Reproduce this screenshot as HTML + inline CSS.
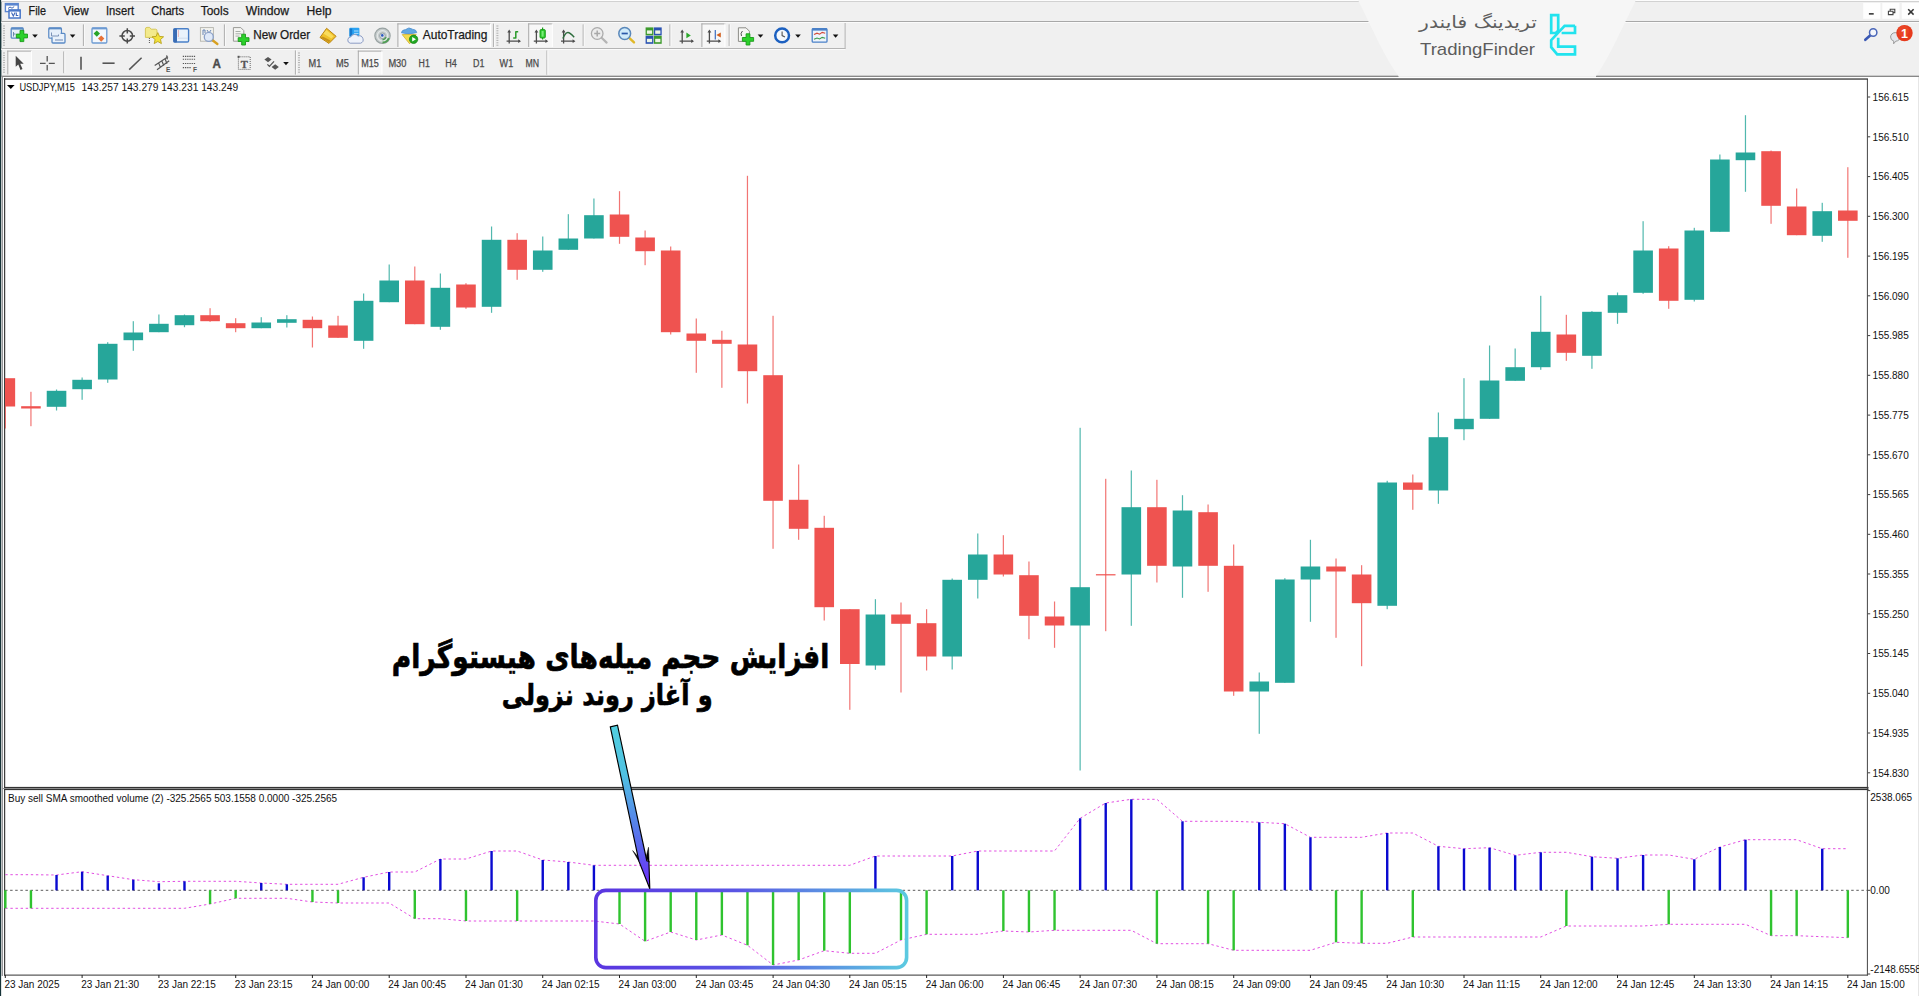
<!DOCTYPE html>
<html lang="en"><head><meta charset="utf-8"><title>USDJPY,M15 - Buy sell SMA smoothed volume</title>
<style>
html,body{margin:0;padding:0}
body{width:1919px;height:996px;overflow:hidden;background:#f0f0f0;position:relative;font-family:"Liberation Sans","DejaVu Sans",sans-serif;color:#000}
.abs{position:absolute;white-space:nowrap}
.menu{position:absolute;top:4px;font-size:12px;line-height:14px;color:#111}
.tf{position:absolute;top:57px;font-size:9.5px;line-height:12px;color:#555;transform:translateX(-50%)}
.lbl{position:absolute;font-size:10px;line-height:12px;color:#111;white-space:nowrap}
svg{position:absolute;left:0;top:0}
svg text{font-family:"Liberation Sans","DejaVu Sans",sans-serif}
.fa{font-family:"DejaVu Sans","Liberation Sans",sans-serif;direction:rtl;unicode-bidi:embed}
</style></head><body>

<svg width="1919" height="996" viewBox="0 0 1919 996">
<defs>
<linearGradient id="gbox" x1="0" y1="0" x2="1" y2="0"><stop offset="0" stop-color="#5a35e0"/><stop offset="0.45" stop-color="#5a55e4"/><stop offset="1" stop-color="#5cc9e0"/></linearGradient>
<linearGradient id="garr" x1="0" y1="0" x2="0" y2="1"><stop offset="0" stop-color="#52cfe0"/><stop offset="0.3" stop-color="#50c2e2"/><stop offset="0.75" stop-color="#5a62ee"/><stop offset="1" stop-color="#7028fa"/></linearGradient>
<clipPath id="cmain"><rect x="5" y="80" width="1862" height="708"/></clipPath>
</defs>
<rect x="0" y="0" width="1.4" height="996" fill="#163338"/>
<rect x="1.3" y="76" width="1918" height="920" fill="#ffffff"/>
<rect x="1.3" y="75.7" width="1918" height="1.2" fill="#7c7c7c"/>
<rect x="1398.5" y="75.6" width="197.5" height="1.4" fill="#ececec"/>
<rect x="1.6" y="76" width="1.3" height="900" fill="#8c8c90"/>
<rect x="4" y="78.2" width="1864" height="1.7" fill="#666"/>
<rect x="4.1" y="78.2" width="1.1" height="897.4" fill="#2a2a2a"/>
<rect x="1918" y="77" width="1" height="919" fill="#e6e6e6"/>
<rect x="4.1" y="786.9" width="1864.4" height="1.1" fill="#333"/>
<rect x="2.6" y="788" width="1866" height="1" fill="#8a8a8a"/>
<rect x="4.1" y="789" width="1864.4" height="1.1" fill="#333"/>
<rect x="4.1" y="974.6" width="1863.7" height="1" fill="#333"/>
<rect x="1866.9" y="79" width="0.95" height="896.5" fill="#3c3c3c"/>
<rect x="1867.8" y="96.5" width="2.4" height="1" fill="#3c3c3c"/>
<text x="1872.6" y="101" font-size="10" fill="#111">156.615</text>
<rect x="1867.8" y="136.3" width="2.4" height="1" fill="#3c3c3c"/>
<text x="1872.6" y="141" font-size="10" fill="#111">156.510</text>
<rect x="1867.8" y="176.1" width="2.4" height="1" fill="#3c3c3c"/>
<text x="1872.6" y="180" font-size="10" fill="#111">156.405</text>
<rect x="1867.8" y="215.8" width="2.4" height="1" fill="#3c3c3c"/>
<text x="1872.6" y="220" font-size="10" fill="#111">156.300</text>
<rect x="1867.8" y="255.6" width="2.4" height="1" fill="#3c3c3c"/>
<text x="1872.6" y="260" font-size="10" fill="#111">156.195</text>
<rect x="1867.8" y="295.3" width="2.4" height="1" fill="#3c3c3c"/>
<text x="1872.6" y="300" font-size="10" fill="#111">156.090</text>
<rect x="1867.8" y="335.1" width="2.4" height="1" fill="#3c3c3c"/>
<text x="1872.6" y="339" font-size="10" fill="#111">155.985</text>
<rect x="1867.8" y="374.8" width="2.4" height="1" fill="#3c3c3c"/>
<text x="1872.6" y="379" font-size="10" fill="#111">155.880</text>
<rect x="1867.8" y="414.6" width="2.4" height="1" fill="#3c3c3c"/>
<text x="1872.6" y="419" font-size="10" fill="#111">155.775</text>
<rect x="1867.8" y="454.3" width="2.4" height="1" fill="#3c3c3c"/>
<text x="1872.6" y="459" font-size="10" fill="#111">155.670</text>
<rect x="1867.8" y="494.1" width="2.4" height="1" fill="#3c3c3c"/>
<text x="1872.6" y="498" font-size="10" fill="#111">155.565</text>
<rect x="1867.8" y="533.8" width="2.4" height="1" fill="#3c3c3c"/>
<text x="1872.6" y="538" font-size="10" fill="#111">155.460</text>
<rect x="1867.8" y="573.5" width="2.4" height="1" fill="#3c3c3c"/>
<text x="1872.6" y="578" font-size="10" fill="#111">155.355</text>
<rect x="1867.8" y="613.3" width="2.4" height="1" fill="#3c3c3c"/>
<text x="1872.6" y="618" font-size="10" fill="#111">155.250</text>
<rect x="1867.8" y="653.0" width="2.4" height="1" fill="#3c3c3c"/>
<text x="1872.6" y="657" font-size="10" fill="#111">155.145</text>
<rect x="1867.8" y="692.8" width="2.4" height="1" fill="#3c3c3c"/>
<text x="1872.6" y="697" font-size="10" fill="#111">155.040</text>
<rect x="1867.8" y="732.5" width="2.4" height="1" fill="#3c3c3c"/>
<text x="1872.6" y="737" font-size="10" fill="#111">154.935</text>
<rect x="1867.8" y="772.3" width="2.4" height="1" fill="#3c3c3c"/>
<text x="1872.6" y="777" font-size="10" fill="#111">154.830</text>
<rect x="1867.8" y="790.1" width="2.4" height="1" fill="#3c3c3c"/>
<text x="1870.3" y="800.5" font-size="10" fill="#111">2538.065</text>
<rect x="1867.8" y="889.8" width="2.4" height="1" fill="#3c3c3c"/>
<text x="1870.3" y="893.8" font-size="10" fill="#111">0.00</text>
<rect x="1867.8" y="973.5" width="2.4" height="1" fill="#3c3c3c"/>
<text x="1870.3" y="972.5" font-size="10" fill="#111">-2148.6558</text>
<rect x="4.8" y="975" width="1" height="3" fill="#222"/>
<text x="4.4" y="987.8" font-size="10" fill="#111">23 Jan 2025</text>
<rect x="81.6" y="975" width="1" height="3" fill="#222"/>
<text x="81.2" y="987.8" font-size="10" fill="#111">23 Jan 21:30</text>
<rect x="158.4" y="975" width="1" height="3" fill="#222"/>
<text x="158.0" y="987.8" font-size="10" fill="#111">23 Jan 22:15</text>
<rect x="235.2" y="975" width="1" height="3" fill="#222"/>
<text x="234.8" y="987.8" font-size="10" fill="#111">23 Jan 23:15</text>
<rect x="311.9" y="975" width="1" height="3" fill="#222"/>
<text x="311.5" y="987.8" font-size="10" fill="#111">24 Jan 00:00</text>
<rect x="388.7" y="975" width="1" height="3" fill="#222"/>
<text x="388.3" y="987.8" font-size="10" fill="#111">24 Jan 00:45</text>
<rect x="465.5" y="975" width="1" height="3" fill="#222"/>
<text x="465.1" y="987.8" font-size="10" fill="#111">24 Jan 01:30</text>
<rect x="542.2" y="975" width="1" height="3" fill="#222"/>
<text x="541.8" y="987.8" font-size="10" fill="#111">24 Jan 02:15</text>
<rect x="619.0" y="975" width="1" height="3" fill="#222"/>
<text x="618.6" y="987.8" font-size="10" fill="#111">24 Jan 03:00</text>
<rect x="695.8" y="975" width="1" height="3" fill="#222"/>
<text x="695.4" y="987.8" font-size="10" fill="#111">24 Jan 03:45</text>
<rect x="772.6" y="975" width="1" height="3" fill="#222"/>
<text x="772.2" y="987.8" font-size="10" fill="#111">24 Jan 04:30</text>
<rect x="849.3" y="975" width="1" height="3" fill="#222"/>
<text x="848.9" y="987.8" font-size="10" fill="#111">24 Jan 05:15</text>
<rect x="926.1" y="975" width="1" height="3" fill="#222"/>
<text x="925.7" y="987.8" font-size="10" fill="#111">24 Jan 06:00</text>
<rect x="1002.9" y="975" width="1" height="3" fill="#222"/>
<text x="1002.5" y="987.8" font-size="10" fill="#111">24 Jan 06:45</text>
<rect x="1079.6" y="975" width="1" height="3" fill="#222"/>
<text x="1079.2" y="987.8" font-size="10" fill="#111">24 Jan 07:30</text>
<rect x="1156.4" y="975" width="1" height="3" fill="#222"/>
<text x="1156.0" y="987.8" font-size="10" fill="#111">24 Jan 08:15</text>
<rect x="1233.2" y="975" width="1" height="3" fill="#222"/>
<text x="1232.8" y="987.8" font-size="10" fill="#111">24 Jan 09:00</text>
<rect x="1309.9" y="975" width="1" height="3" fill="#222"/>
<text x="1309.5" y="987.8" font-size="10" fill="#111">24 Jan 09:45</text>
<rect x="1386.7" y="975" width="1" height="3" fill="#222"/>
<text x="1386.3" y="987.8" font-size="10" fill="#111">24 Jan 10:30</text>
<rect x="1463.5" y="975" width="1" height="3" fill="#222"/>
<text x="1463.1" y="987.8" font-size="10" fill="#111">24 Jan 11:15</text>
<rect x="1540.2" y="975" width="1" height="3" fill="#222"/>
<text x="1539.8" y="987.8" font-size="10" fill="#111">24 Jan 12:00</text>
<rect x="1617.0" y="975" width="1" height="3" fill="#222"/>
<text x="1616.6" y="987.8" font-size="10" fill="#111">24 Jan 12:45</text>
<rect x="1693.8" y="975" width="1" height="3" fill="#222"/>
<text x="1693.4" y="987.8" font-size="10" fill="#111">24 Jan 13:30</text>
<rect x="1770.6" y="975" width="1" height="3" fill="#222"/>
<text x="1770.2" y="987.8" font-size="10" fill="#111">24 Jan 14:15</text>
<rect x="1847.3" y="975" width="1" height="3" fill="#222"/>
<text x="1846.9" y="987.8" font-size="10" fill="#111">24 Jan 15:00</text>
<g clip-path="url(#cmain)">
<rect x="4.75" y="378.2" width="1.2" height="50.3" fill="#ef5350" opacity="0.8"/>
<rect x="-4.45" y="378.2" width="19.6" height="28.3" fill="#ef5350"/>
<rect x="30.34" y="391.8" width="1.2" height="34.4" fill="#ef5350" opacity="0.8"/>
<rect x="21.14" y="406.2" width="19.6" height="2.3" fill="#ef5350"/>
<rect x="55.93" y="389.5" width="1.2" height="21.0" fill="#26a69a" opacity="0.8"/>
<rect x="46.73" y="390.8" width="19.6" height="16.0" fill="#26a69a"/>
<rect x="81.52" y="377.5" width="1.2" height="22.3" fill="#26a69a" opacity="0.8"/>
<rect x="72.32" y="379.8" width="19.6" height="9.4" fill="#26a69a"/>
<rect x="107.11" y="342.2" width="1.2" height="40.6" fill="#26a69a" opacity="0.8"/>
<rect x="97.91" y="343.8" width="19.6" height="35.7" fill="#26a69a"/>
<rect x="132.70" y="321.2" width="1.2" height="29.6" fill="#26a69a" opacity="0.8"/>
<rect x="123.50" y="332.5" width="19.6" height="7.7" fill="#26a69a"/>
<rect x="158.29" y="314.5" width="1.2" height="17.7" fill="#26a69a" opacity="0.8"/>
<rect x="149.09" y="323.8" width="19.6" height="8.4" fill="#26a69a"/>
<rect x="183.88" y="314.5" width="1.2" height="12.7" fill="#26a69a" opacity="0.8"/>
<rect x="174.68" y="315.2" width="19.6" height="10.0" fill="#26a69a"/>
<rect x="209.47" y="308.2" width="1.2" height="13.6" fill="#ef5350" opacity="0.8"/>
<rect x="200.27" y="315.2" width="19.6" height="6.0" fill="#ef5350"/>
<rect x="235.06" y="318.2" width="1.2" height="14.0" fill="#ef5350" opacity="0.8"/>
<rect x="225.86" y="323.2" width="19.6" height="5.0" fill="#ef5350"/>
<rect x="260.65" y="317.2" width="1.2" height="11.0" fill="#26a69a" opacity="0.8"/>
<rect x="251.45" y="322.5" width="19.6" height="5.7" fill="#26a69a"/>
<rect x="286.24" y="315.2" width="1.2" height="12.3" fill="#26a69a" opacity="0.8"/>
<rect x="277.04" y="319.2" width="19.6" height="3.6" fill="#26a69a"/>
<rect x="311.83" y="316.5" width="1.2" height="31.0" fill="#ef5350" opacity="0.8"/>
<rect x="302.63" y="319.8" width="19.6" height="8.4" fill="#ef5350"/>
<rect x="337.42" y="315.8" width="1.2" height="22.0" fill="#ef5350" opacity="0.8"/>
<rect x="328.22" y="325.5" width="19.6" height="12.3" fill="#ef5350"/>
<rect x="363.01" y="293.5" width="1.2" height="55.3" fill="#26a69a" opacity="0.8"/>
<rect x="353.81" y="300.8" width="19.6" height="40.0" fill="#26a69a"/>
<rect x="388.60" y="264.5" width="1.2" height="37.7" fill="#26a69a" opacity="0.8"/>
<rect x="379.40" y="280.5" width="19.6" height="21.7" fill="#26a69a"/>
<rect x="414.19" y="266.5" width="1.2" height="57.7" fill="#ef5350" opacity="0.8"/>
<rect x="404.99" y="280.5" width="19.6" height="43.7" fill="#ef5350"/>
<rect x="439.78" y="273.5" width="1.2" height="56.3" fill="#26a69a" opacity="0.8"/>
<rect x="430.58" y="287.8" width="19.6" height="39.0" fill="#26a69a"/>
<rect x="465.37" y="283.2" width="1.2" height="25.6" fill="#ef5350" opacity="0.8"/>
<rect x="456.17" y="284.5" width="19.6" height="23.0" fill="#ef5350"/>
<rect x="490.96" y="226.5" width="1.2" height="86.3" fill="#26a69a" opacity="0.8"/>
<rect x="481.76" y="239.8" width="19.6" height="67.0" fill="#26a69a"/>
<rect x="516.55" y="233.2" width="1.2" height="46.6" fill="#ef5350" opacity="0.8"/>
<rect x="507.35" y="239.8" width="19.6" height="30.0" fill="#ef5350"/>
<rect x="542.14" y="236.5" width="1.2" height="35.3" fill="#26a69a" opacity="0.8"/>
<rect x="532.94" y="250.5" width="19.6" height="19.3" fill="#26a69a"/>
<rect x="567.73" y="214.2" width="1.2" height="35.6" fill="#26a69a" opacity="0.8"/>
<rect x="558.53" y="238.5" width="19.6" height="11.3" fill="#26a69a"/>
<rect x="593.32" y="198.5" width="1.2" height="40.0" fill="#26a69a" opacity="0.8"/>
<rect x="584.12" y="215.2" width="19.6" height="23.3" fill="#26a69a"/>
<rect x="618.91" y="191.2" width="1.2" height="52.6" fill="#ef5350" opacity="0.8"/>
<rect x="609.71" y="214.5" width="19.6" height="22.3" fill="#ef5350"/>
<rect x="644.50" y="230.5" width="1.2" height="34.7" fill="#ef5350" opacity="0.8"/>
<rect x="635.30" y="237.5" width="19.6" height="13.7" fill="#ef5350"/>
<rect x="670.09" y="246.5" width="1.2" height="88.0" fill="#ef5350" opacity="0.8"/>
<rect x="660.89" y="250.5" width="19.6" height="81.7" fill="#ef5350"/>
<rect x="695.68" y="318.5" width="1.2" height="54.3" fill="#ef5350" opacity="0.8"/>
<rect x="686.48" y="333.5" width="19.6" height="7.3" fill="#ef5350"/>
<rect x="721.27" y="330.8" width="1.2" height="57.0" fill="#ef5350" opacity="0.8"/>
<rect x="712.07" y="339.8" width="19.6" height="4.0" fill="#ef5350"/>
<rect x="746.86" y="175.8" width="1.2" height="227.7" fill="#ef5350" opacity="0.8"/>
<rect x="737.66" y="344.5" width="19.6" height="26.7" fill="#ef5350"/>
<rect x="772.45" y="315.8" width="1.2" height="233.0" fill="#ef5350" opacity="0.8"/>
<rect x="763.25" y="375.2" width="19.6" height="125.6" fill="#ef5350"/>
<rect x="798.04" y="464.5" width="1.2" height="75.3" fill="#ef5350" opacity="0.8"/>
<rect x="788.84" y="499.8" width="19.6" height="29.0" fill="#ef5350"/>
<rect x="823.63" y="515.8" width="1.2" height="104.7" fill="#ef5350" opacity="0.8"/>
<rect x="814.43" y="527.8" width="19.6" height="79.4" fill="#ef5350"/>
<rect x="849.22" y="609.2" width="1.2" height="100.6" fill="#ef5350" opacity="0.8"/>
<rect x="840.02" y="609.2" width="19.6" height="54.8" fill="#ef5350"/>
<rect x="874.81" y="599.2" width="1.2" height="70.6" fill="#26a69a" opacity="0.8"/>
<rect x="865.61" y="614.5" width="19.6" height="51.0" fill="#26a69a"/>
<rect x="900.40" y="602.5" width="1.2" height="90.0" fill="#ef5350" opacity="0.8"/>
<rect x="891.20" y="614.5" width="19.6" height="9.3" fill="#ef5350"/>
<rect x="925.99" y="609.2" width="1.2" height="61.3" fill="#ef5350" opacity="0.8"/>
<rect x="916.79" y="623.2" width="19.6" height="33.3" fill="#ef5350"/>
<rect x="951.58" y="578.5" width="1.2" height="91.0" fill="#26a69a" opacity="0.8"/>
<rect x="942.38" y="579.8" width="19.6" height="76.7" fill="#26a69a"/>
<rect x="977.17" y="533.5" width="1.2" height="65.0" fill="#26a69a" opacity="0.8"/>
<rect x="967.97" y="554.5" width="19.6" height="25.3" fill="#26a69a"/>
<rect x="1002.76" y="535.2" width="1.2" height="41.3" fill="#ef5350" opacity="0.8"/>
<rect x="993.56" y="554.5" width="19.6" height="20.0" fill="#ef5350"/>
<rect x="1028.35" y="561.5" width="1.2" height="77.7" fill="#ef5350" opacity="0.8"/>
<rect x="1019.15" y="575.2" width="19.6" height="40.6" fill="#ef5350"/>
<rect x="1053.94" y="601.5" width="1.2" height="46.3" fill="#ef5350" opacity="0.8"/>
<rect x="1044.74" y="616.5" width="19.6" height="9.0" fill="#ef5350"/>
<rect x="1079.53" y="427.8" width="1.2" height="342.7" fill="#26a69a" opacity="0.8"/>
<rect x="1070.33" y="587.2" width="19.6" height="38.3" fill="#26a69a"/>
<rect x="1105.12" y="478.8" width="1.2" height="152.4" fill="#ef5350" opacity="0.8"/>
<rect x="1095.92" y="574.2" width="19.6" height="1.2" fill="#ef5350"/>
<rect x="1130.71" y="470.5" width="1.2" height="155.3" fill="#26a69a" opacity="0.8"/>
<rect x="1121.51" y="507.2" width="19.6" height="67.3" fill="#26a69a"/>
<rect x="1156.30" y="479.8" width="1.2" height="102.7" fill="#ef5350" opacity="0.8"/>
<rect x="1147.10" y="507.2" width="19.6" height="58.6" fill="#ef5350"/>
<rect x="1181.89" y="495.2" width="1.2" height="102.6" fill="#26a69a" opacity="0.8"/>
<rect x="1172.69" y="510.5" width="19.6" height="56.0" fill="#26a69a"/>
<rect x="1207.48" y="504.5" width="1.2" height="87.3" fill="#ef5350" opacity="0.8"/>
<rect x="1198.28" y="512.2" width="19.6" height="53.6" fill="#ef5350"/>
<rect x="1233.07" y="544.5" width="1.2" height="151.3" fill="#ef5350" opacity="0.8"/>
<rect x="1223.87" y="565.8" width="19.6" height="125.7" fill="#ef5350"/>
<rect x="1258.66" y="672.5" width="1.2" height="61.3" fill="#26a69a" opacity="0.8"/>
<rect x="1249.46" y="681.5" width="19.6" height="10.0" fill="#26a69a"/>
<rect x="1284.25" y="578.2" width="1.2" height="104.6" fill="#26a69a" opacity="0.8"/>
<rect x="1275.05" y="579.5" width="19.6" height="103.3" fill="#26a69a"/>
<rect x="1309.84" y="539.8" width="1.2" height="82.0" fill="#26a69a" opacity="0.8"/>
<rect x="1300.64" y="566.5" width="19.6" height="13.0" fill="#26a69a"/>
<rect x="1335.43" y="558.5" width="1.2" height="79.3" fill="#ef5350" opacity="0.8"/>
<rect x="1326.23" y="566.5" width="19.6" height="5.0" fill="#ef5350"/>
<rect x="1361.02" y="565.2" width="1.2" height="101.0" fill="#ef5350" opacity="0.8"/>
<rect x="1351.82" y="574.5" width="19.6" height="28.7" fill="#ef5350"/>
<rect x="1386.61" y="480.8" width="1.2" height="128.4" fill="#26a69a" opacity="0.8"/>
<rect x="1377.41" y="482.5" width="19.6" height="123.3" fill="#26a69a"/>
<rect x="1412.20" y="474.5" width="1.2" height="35.3" fill="#ef5350" opacity="0.8"/>
<rect x="1403.00" y="482.5" width="19.6" height="7.3" fill="#ef5350"/>
<rect x="1437.79" y="412.5" width="1.2" height="91.3" fill="#26a69a" opacity="0.8"/>
<rect x="1428.59" y="437.2" width="19.6" height="53.3" fill="#26a69a"/>
<rect x="1463.38" y="378.2" width="1.2" height="62.0" fill="#26a69a" opacity="0.8"/>
<rect x="1454.18" y="418.8" width="19.6" height="10.4" fill="#26a69a"/>
<rect x="1488.97" y="345.5" width="1.2" height="73.3" fill="#26a69a" opacity="0.8"/>
<rect x="1479.77" y="380.5" width="19.6" height="38.3" fill="#26a69a"/>
<rect x="1514.56" y="348.5" width="1.2" height="32.3" fill="#26a69a" opacity="0.8"/>
<rect x="1505.36" y="367.2" width="19.6" height="13.6" fill="#26a69a"/>
<rect x="1540.15" y="295.8" width="1.2" height="74.0" fill="#26a69a" opacity="0.8"/>
<rect x="1530.95" y="331.8" width="19.6" height="35.4" fill="#26a69a"/>
<rect x="1565.74" y="314.8" width="1.2" height="46.0" fill="#ef5350" opacity="0.8"/>
<rect x="1556.54" y="334.5" width="19.6" height="18.3" fill="#ef5350"/>
<rect x="1591.33" y="311.2" width="1.2" height="57.6" fill="#26a69a" opacity="0.8"/>
<rect x="1582.13" y="311.8" width="19.6" height="44.0" fill="#26a69a"/>
<rect x="1616.92" y="292.5" width="1.2" height="31.3" fill="#26a69a" opacity="0.8"/>
<rect x="1607.72" y="295.2" width="19.6" height="17.6" fill="#26a69a"/>
<rect x="1642.51" y="221.2" width="1.2" height="72.6" fill="#26a69a" opacity="0.8"/>
<rect x="1633.31" y="250.5" width="19.6" height="42.3" fill="#26a69a"/>
<rect x="1668.10" y="246.2" width="1.2" height="62.6" fill="#ef5350" opacity="0.8"/>
<rect x="1658.90" y="248.5" width="19.6" height="52.3" fill="#ef5350"/>
<rect x="1693.69" y="227.8" width="1.2" height="73.7" fill="#26a69a" opacity="0.8"/>
<rect x="1684.49" y="230.5" width="19.6" height="69.3" fill="#26a69a"/>
<rect x="1719.28" y="154.5" width="1.2" height="77.3" fill="#26a69a" opacity="0.8"/>
<rect x="1710.08" y="159.5" width="19.6" height="72.3" fill="#26a69a"/>
<rect x="1744.87" y="115.2" width="1.2" height="76.6" fill="#26a69a" opacity="0.8"/>
<rect x="1735.67" y="152.5" width="19.6" height="7.7" fill="#26a69a"/>
<rect x="1770.46" y="150.5" width="1.2" height="73.3" fill="#ef5350" opacity="0.8"/>
<rect x="1761.26" y="151.2" width="19.6" height="54.6" fill="#ef5350"/>
<rect x="1796.05" y="188.5" width="1.2" height="46.7" fill="#ef5350" opacity="0.8"/>
<rect x="1786.85" y="206.5" width="19.6" height="28.7" fill="#ef5350"/>
<rect x="1821.64" y="202.8" width="1.2" height="39.0" fill="#26a69a" opacity="0.8"/>
<rect x="1812.44" y="211.2" width="19.6" height="24.6" fill="#26a69a"/>
<rect x="1847.23" y="167.2" width="1.2" height="90.6" fill="#ef5350" opacity="0.8"/>
<rect x="1838.03" y="210.5" width="19.6" height="10.3" fill="#ef5350"/>
</g>
<line x1="5" y1="890.3" x2="1867" y2="890.3" stroke="#4a4a4a" stroke-width="0.9" stroke-dasharray="2.5 2.6"/>
<polyline points="5.3,874.7 30.9,874.7 56.5,875.0 82.1,871.7 107.7,875.7 133.3,879.7 158.9,881.7 184.5,881.3 210.1,881.3 235.7,881.3 261.2,883.0 286.8,884.3 312.4,884.3 338.0,884.3 363.6,877.3 389.2,872.0 414.8,872.0 440.4,859.0 466.0,859.0 491.6,851.0 517.1,851.0 542.7,860.0 568.3,862.0 593.9,865.3 619.5,865.3 645.1,865.3 670.7,865.3 696.3,865.3 721.9,865.3 747.5,865.3 773.1,865.3 798.6,865.3 824.2,865.3 849.8,865.3 875.4,856.0 901.0,856.0 926.6,856.0 952.2,856.0 977.8,851.0 1003.4,851.0 1029.0,851.0 1054.5,851.0 1080.1,818.3 1105.7,803.0 1131.3,799.3 1156.9,799.3 1182.5,821.3 1208.1,821.3 1233.7,821.3 1259.3,822.3 1284.8,823.7 1310.4,837.3 1336.0,837.3 1361.6,837.3 1387.2,833.0 1412.8,833.0 1438.4,846.3 1464.0,848.7 1489.6,847.7 1515.2,855.3 1540.8,852.3 1566.3,852.3 1591.9,856.7 1617.5,858.3 1643.1,855.0 1668.7,855.0 1694.3,859.3 1719.9,847.0 1745.5,839.7 1771.1,839.7 1796.6,839.7 1822.2,848.7 1847.8,848.7" fill="none" stroke="#e24ee2" stroke-width="1.0" stroke-dasharray="2.4 2.7"/>
<polyline points="5.3,908.3 30.9,908.3 56.5,908.3 82.1,908.3 107.7,908.3 133.3,908.3 158.9,908.3 184.5,908.3 210.1,904.0 235.7,898.3 261.2,898.3 286.8,898.3 312.4,902.0 338.0,903.0 363.6,903.0 389.2,903.0 414.8,918.7 440.4,918.7 466.0,921.0 491.6,921.0 517.1,921.0 542.7,921.0 568.3,921.0 593.9,921.0 619.5,924.0 645.1,941.3 670.7,932.0 696.3,940.0 721.9,935.0 747.5,945.3 773.1,965.0 798.6,960.0 824.2,950.7 849.8,953.3 875.4,953.3 901.0,940.0 926.6,934.3 952.2,934.3 977.8,934.3 1003.4,931.0 1029.0,932.0 1054.5,930.3 1080.1,930.3 1105.7,930.3 1131.3,930.3 1156.9,943.7 1182.5,943.7 1208.1,943.7 1233.7,950.3 1259.3,950.3 1284.8,950.3 1310.4,950.3 1336.0,942.3 1361.6,943.3 1387.2,943.3 1412.8,937.0 1438.4,937.0 1464.0,937.0 1489.6,937.0 1515.2,937.0 1540.8,937.0 1566.3,926.0 1591.9,926.0 1617.5,926.0 1643.1,926.0 1668.7,924.3 1694.3,924.3 1719.9,924.3 1745.5,924.3 1771.1,935.7 1796.6,935.7 1822.2,936.7 1847.8,937.7" fill="none" stroke="#e24ee2" stroke-width="1.0" stroke-dasharray="2.4 2.7"/>
<rect x="4.15" y="890.3" width="2.4" height="18.0" fill="#2fc32f"/>
<rect x="29.74" y="890.3" width="2.4" height="18.0" fill="#2fc32f"/>
<rect x="55.33" y="875.0" width="2.4" height="15.3" fill="#0a0ad0"/>
<rect x="80.92" y="871.7" width="2.4" height="18.6" fill="#0a0ad0"/>
<rect x="106.51" y="875.7" width="2.4" height="14.6" fill="#0a0ad0"/>
<rect x="132.10" y="879.7" width="2.4" height="10.6" fill="#0a0ad0"/>
<rect x="157.69" y="883.3" width="2.4" height="7.0" fill="#0a0ad0"/>
<rect x="183.28" y="881.3" width="2.4" height="9.0" fill="#0a0ad0"/>
<rect x="208.87" y="890.3" width="2.4" height="13.7" fill="#2fc32f"/>
<rect x="234.46" y="890.3" width="2.4" height="8.0" fill="#2fc32f"/>
<rect x="260.05" y="883.0" width="2.4" height="7.3" fill="#0a0ad0"/>
<rect x="285.64" y="884.3" width="2.4" height="6.0" fill="#0a0ad0"/>
<rect x="311.23" y="890.3" width="2.4" height="11.7" fill="#2fc32f"/>
<rect x="336.82" y="890.3" width="2.4" height="12.7" fill="#2fc32f"/>
<rect x="362.41" y="877.3" width="2.4" height="13.0" fill="#0a0ad0"/>
<rect x="388.00" y="872.0" width="2.4" height="18.3" fill="#0a0ad0"/>
<rect x="413.59" y="890.3" width="2.4" height="28.4" fill="#2fc32f"/>
<rect x="439.18" y="859.0" width="2.4" height="31.3" fill="#0a0ad0"/>
<rect x="464.77" y="890.3" width="2.4" height="30.7" fill="#2fc32f"/>
<rect x="490.36" y="851.0" width="2.4" height="39.3" fill="#0a0ad0"/>
<rect x="515.95" y="890.3" width="2.4" height="30.7" fill="#2fc32f"/>
<rect x="541.54" y="860.0" width="2.4" height="30.3" fill="#0a0ad0"/>
<rect x="567.13" y="862.0" width="2.4" height="28.3" fill="#0a0ad0"/>
<rect x="592.72" y="865.3" width="2.4" height="25.0" fill="#0a0ad0"/>
<rect x="618.31" y="890.3" width="2.4" height="33.7" fill="#2fc32f"/>
<rect x="643.90" y="890.3" width="2.4" height="51.0" fill="#2fc32f"/>
<rect x="669.49" y="890.3" width="2.4" height="41.7" fill="#2fc32f"/>
<rect x="695.08" y="890.3" width="2.4" height="49.7" fill="#2fc32f"/>
<rect x="720.67" y="890.3" width="2.4" height="44.7" fill="#2fc32f"/>
<rect x="746.26" y="890.3" width="2.4" height="55.0" fill="#2fc32f"/>
<rect x="771.85" y="890.3" width="2.4" height="74.7" fill="#2fc32f"/>
<rect x="797.44" y="890.3" width="2.4" height="69.7" fill="#2fc32f"/>
<rect x="823.03" y="890.3" width="2.4" height="60.4" fill="#2fc32f"/>
<rect x="848.62" y="890.3" width="2.4" height="63.0" fill="#2fc32f"/>
<rect x="874.21" y="856.0" width="2.4" height="34.3" fill="#0a0ad0"/>
<rect x="899.80" y="890.3" width="2.4" height="49.7" fill="#2fc32f"/>
<rect x="925.39" y="890.3" width="2.4" height="44.0" fill="#2fc32f"/>
<rect x="950.98" y="856.0" width="2.4" height="34.3" fill="#0a0ad0"/>
<rect x="976.57" y="851.0" width="2.4" height="39.3" fill="#0a0ad0"/>
<rect x="1002.16" y="890.3" width="2.4" height="40.7" fill="#2fc32f"/>
<rect x="1027.75" y="890.3" width="2.4" height="41.7" fill="#2fc32f"/>
<rect x="1053.34" y="890.3" width="2.4" height="40.0" fill="#2fc32f"/>
<rect x="1078.93" y="818.3" width="2.4" height="72.0" fill="#0a0ad0"/>
<rect x="1104.52" y="803.0" width="2.4" height="87.3" fill="#0a0ad0"/>
<rect x="1130.11" y="799.3" width="2.4" height="91.0" fill="#0a0ad0"/>
<rect x="1155.70" y="890.3" width="2.4" height="53.4" fill="#2fc32f"/>
<rect x="1181.29" y="821.3" width="2.4" height="69.0" fill="#0a0ad0"/>
<rect x="1206.88" y="890.3" width="2.4" height="53.4" fill="#2fc32f"/>
<rect x="1232.47" y="890.3" width="2.4" height="60.0" fill="#2fc32f"/>
<rect x="1258.06" y="822.3" width="2.4" height="68.0" fill="#0a0ad0"/>
<rect x="1283.65" y="823.7" width="2.4" height="66.6" fill="#0a0ad0"/>
<rect x="1309.24" y="837.3" width="2.4" height="53.0" fill="#0a0ad0"/>
<rect x="1334.83" y="890.3" width="2.4" height="52.0" fill="#2fc32f"/>
<rect x="1360.42" y="890.3" width="2.4" height="53.0" fill="#2fc32f"/>
<rect x="1386.01" y="833.0" width="2.4" height="57.3" fill="#0a0ad0"/>
<rect x="1411.60" y="890.3" width="2.4" height="46.7" fill="#2fc32f"/>
<rect x="1437.19" y="846.3" width="2.4" height="44.0" fill="#0a0ad0"/>
<rect x="1462.78" y="848.7" width="2.4" height="41.6" fill="#0a0ad0"/>
<rect x="1488.37" y="847.7" width="2.4" height="42.6" fill="#0a0ad0"/>
<rect x="1513.96" y="855.3" width="2.4" height="35.0" fill="#0a0ad0"/>
<rect x="1539.55" y="852.3" width="2.4" height="38.0" fill="#0a0ad0"/>
<rect x="1565.14" y="890.3" width="2.4" height="35.7" fill="#2fc32f"/>
<rect x="1590.73" y="856.7" width="2.4" height="33.6" fill="#0a0ad0"/>
<rect x="1616.32" y="858.3" width="2.4" height="32.0" fill="#0a0ad0"/>
<rect x="1641.91" y="855.0" width="2.4" height="35.3" fill="#0a0ad0"/>
<rect x="1667.50" y="890.3" width="2.4" height="34.0" fill="#2fc32f"/>
<rect x="1693.09" y="859.3" width="2.4" height="31.0" fill="#0a0ad0"/>
<rect x="1718.68" y="847.0" width="2.4" height="43.3" fill="#0a0ad0"/>
<rect x="1744.27" y="839.7" width="2.4" height="50.6" fill="#0a0ad0"/>
<rect x="1769.86" y="890.3" width="2.4" height="45.4" fill="#2fc32f"/>
<rect x="1795.45" y="890.3" width="2.4" height="45.4" fill="#2fc32f"/>
<rect x="1821.04" y="848.7" width="2.4" height="41.6" fill="#0a0ad0"/>
<rect x="1846.63" y="890.3" width="2.4" height="47.4" fill="#2fc32f"/>
<rect x="595.8" y="890.4" width="310.8" height="77.2" rx="10" ry="10" fill="none" stroke="url(#gbox)" stroke-width="3.6"/>
<polygon points="632.7,850.6 638.9,861.4 637.8,856.6" fill="#000" stroke="#000" stroke-width="0.5"/>
<polygon points="648.5,847.3 649.2,862.4 646.0,857.4" fill="#000" stroke="#000" stroke-width="0.5"/>
<polygon points="610.3,726.9 617.5,725.1 646.8,860.7 648.9,861.5 649.8,888.8 638.9,861.2" fill="url(#garr)" stroke="#000" stroke-width="1.15" stroke-linejoin="miter"/>
<g transform="translate(610.5,668.1) scale(0.812,0.99)"><text class="fa" x="0" y="0" font-size="32.7" font-weight="bold" text-anchor="middle" direction="rtl" fill="#000" stroke="#000" stroke-width="0.7">افزایش حجم میله‌های هیستوگرام</text></g>
<g transform="translate(607.2,705.0) scale(0.80,0.95)"><text class="fa" x="0" y="0" font-size="30" font-weight="bold" text-anchor="middle" direction="rtl" fill="#000" stroke="#000" stroke-width="0.7">و آغاز روند نزولی</text></g>
<polygon points="7,85 14.6,85 10.8,89" fill="#000"/>
<text x="19.4" y="90.6" font-size="10" fill="#111"><tspan textLength="55.6" lengthAdjust="spacingAndGlyphs">USDJPY,M15</tspan></text>
<text x="81.6" y="90.6" font-size="10" fill="#111"><tspan textLength="156.6" lengthAdjust="spacingAndGlyphs">143.257 143.279 143.231 143.249</tspan></text>
<text x="8" y="801.6" font-size="10" fill="#111">Buy sell SMA smoothed volume (2) -325.2565 503.1558 0.0000 -325.2565</text>
<rect x="1.3" y="0" width="1918" height="1.1" fill="#fdfdfd"/>
<rect x="1.3" y="1.1" width="1918" height="0.9" fill="#cfcfcf"/>
<rect x="1.3" y="21" width="1918" height="1" fill="#a8a8a8"/>
<rect x="1.3" y="22" width="1918" height="1" fill="#fbfbfb"/>
<rect x="1.3" y="48" width="844" height="1" fill="#b4b4b4"/>
<rect x="1.3" y="49" width="844" height="1" fill="#fbfbfb"/>
<rect x="844.6" y="23" width="1" height="26" fill="#b4b4b4"/>
<path d="M1358,0 C1372,28 1385,58 1398.5,76 L1596,76 C1609,58 1622,28 1636,0 Z" fill="#f6f6f6"/>
<rect x="5.4" y="3.6" width="12.8" height="8" fill="#fff" stroke="#5b86d0" stroke-width="1.4"/>
<rect x="5.4" y="3.4" width="12.8" height="2.2" fill="#5b86d0"/>
<path d="M8,8.5 l2,-1.5 l2,1.2 l2.2,-1.6" stroke="#3f68b8" stroke-width="1" fill="none"/>
<rect x="9" y="10" width="11.2" height="8" fill="#fff" stroke="#4a78c8" stroke-width="1.5"/>
<rect x="9" y="9.6" width="11.2" height="2" fill="#4a78c8"/>
<path d="M11.5,12.5 l1.8,3.5 l1.8,-3.5 M16.3,12.5 v3 h2" stroke="#3f68b8" stroke-width="1.1" fill="none"/>
<text x="28.6" y="15.4" font-size="12.4" fill="#1a1a1a" stroke="#1a1a1a" stroke-width="0.25" textLength="17.4" lengthAdjust="spacingAndGlyphs">File</text>
<text x="63.6" y="15.4" font-size="12.4" fill="#1a1a1a" stroke="#1a1a1a" stroke-width="0.25" textLength="25" lengthAdjust="spacingAndGlyphs">View</text>
<text x="106" y="15.4" font-size="12.4" fill="#1a1a1a" stroke="#1a1a1a" stroke-width="0.25" textLength="28" lengthAdjust="spacingAndGlyphs">Insert</text>
<text x="151.2" y="15.4" font-size="12.4" fill="#1a1a1a" stroke="#1a1a1a" stroke-width="0.25" textLength="32.8" lengthAdjust="spacingAndGlyphs">Charts</text>
<text x="200.8" y="15.4" font-size="12.4" fill="#1a1a1a" stroke="#1a1a1a" stroke-width="0.25" textLength="27.8" lengthAdjust="spacingAndGlyphs">Tools</text>
<text x="245.8" y="15.4" font-size="12.4" fill="#1a1a1a" stroke="#1a1a1a" stroke-width="0.25" textLength="43.2" lengthAdjust="spacingAndGlyphs">Window</text>
<text x="306.6" y="15.4" font-size="12.4" fill="#1a1a1a" stroke="#1a1a1a" stroke-width="0.25" textLength="25" lengthAdjust="spacingAndGlyphs">Help</text>
<rect x="1863.2" y="3" width="17.2" height="15.8" fill="#fefefe"/>
<rect x="1882.3" y="3" width="17.2" height="15.8" fill="#fefefe"/>
<rect x="1901.8" y="3" width="17.2" height="15.8" fill="#fefefe"/>
<rect x="1868.9" y="13" width="4.8" height="1.7" fill="#444"/>
<path d="M1888.4,11.2 h4.6 v3.4 h-4.6 z M1890.2,11 v-1.8 h4.6 v3.4 h-1.6" fill="none" stroke="#444" stroke-width="1.1"/>
<path d="M1908.2,9.2 l5.4,5.4 M1913.6,9.2 l-5.4,5.4" stroke="#333" stroke-width="1.5"/>
<path d="M1870.4,35.2 L1865.3,39.8" stroke="#3a58b4" stroke-width="2.6" stroke-linecap="round"/>
<circle cx="1873.2" cy="32.5" r="3.7" fill="#f4f6fb" stroke="#4a66b8" stroke-width="1.5"/>
<path d="M1890.6,37 a4.8,4.3 0 1 1 5.2,4.2 l-2.2,2.6 l0.2,-2.7 a4.6,4.3 0 0 1 -3.2,-4.1 z" fill="#e4e6ea" stroke="#9a9a9a" stroke-width="1"/>
<circle cx="1904.5" cy="33.1" r="8.2" fill="#e63a1c"/>
<circle cx="1903.5" cy="31" r="5.5" fill="#ee5030" opacity="0.5"/>
<text x="1904.6" y="37.6" font-size="12.5" font-weight="bold" fill="#fff" text-anchor="middle">1</text>
<rect x="3" y="25.5" width="2" height="1" fill="#b0b0b0"/><rect x="3" y="27.9" width="2" height="1" fill="#b0b0b0"/><rect x="3" y="30.3" width="2" height="1" fill="#b0b0b0"/><rect x="3" y="32.7" width="2" height="1" fill="#b0b0b0"/><rect x="3" y="35.1" width="2" height="1" fill="#b0b0b0"/><rect x="3" y="37.5" width="2" height="1" fill="#b0b0b0"/><rect x="3" y="39.9" width="2" height="1" fill="#b0b0b0"/><rect x="3" y="42.3" width="2" height="1" fill="#b0b0b0"/><rect x="3" y="44.7" width="2" height="1" fill="#b0b0b0"/>
<rect x="11.2" y="28" width="12" height="10.2" rx="1" fill="#e6effa" stroke="#5b8bc6" stroke-width="1.3"/>
<rect x="11.2" y="27.6" width="12" height="2" fill="#5b8bc6"/>
<path d="M13.5,32 v4.5 M13.5,34 h2" stroke="#6080a8" stroke-width="0.9"/>
<path d="M20.0,30.4 h3.8 v3.6999999999999997 h3.6999999999999997 v3.8 h-3.6999999999999997 v3.6999999999999997 h-3.8 v-3.6999999999999997 h-3.6999999999999997 v-3.8 h3.6999999999999997 z" fill="#2bd12b" stroke="#1a9a1a" stroke-width="0.9" stroke-linejoin="round"/>
<polygon points="32.2,34.4 37.8,34.4 35,37.7" fill="#111"/>
<rect x="48.8" y="28" width="12.6" height="10.2" rx="1" fill="#e6effa" stroke="#5b8bc6" stroke-width="1.3"/>
<rect x="48.8" y="27.6" width="12.6" height="2" fill="#5b8bc6"/>
<rect x="52" y="33.4" width="13" height="9.6" rx="1" fill="#eaf2fb" stroke="#5b8bc6" stroke-width="1.3"/>
<rect x="49.8" y="29.6" width="10.8" height="7.6" fill="#e6effa"/>
<path d="M51.5,32.5 v3.5 h7 v-1.5" stroke="#7088b0" stroke-width="0.9" fill="none"/>
<path d="M55,40 h8" stroke="#8098c0" stroke-width="1.2"/>
<polygon points="69.8,34.4 75.39999999999999,34.4 72.6,37.7" fill="#111"/>
<rect x="82.9" y="24.4" width="1" height="21.6" fill="#a6a6a6"/><rect x="83.9" y="24.4" width="1" height="21.6" fill="#fafafa"/>
<rect x="92" y="28" width="14.8" height="15" rx="1" fill="#f4f8fd" stroke="#6c9ad2" stroke-width="1.3"/>
<rect x="92" y="27.6" width="14.8" height="1.8" fill="#6c9ad2"/>
<polygon points="96.8,30.4 100,33.6 96.8,36.8 93.6,33.6" fill="#28a428"/>
<polygon points="101.2,35.4 104.4,38.6 101.2,41.8 98,38.6" fill="#e87238"/>
<circle cx="127.3" cy="35.9" r="5.3" fill="none" stroke="#4a4a4a" stroke-width="1.5"/>
<path d="M119.4,35.9 h5.4 M129.8,35.9 h5.2 M127.3,28.2 v5.2 M127.3,38.4 v5.2" stroke="#4a4a4a" stroke-width="1.5"/>
<path d="M145.4,29 q0,-1.6 1.6,-1.6 h2.6 l1.6,1.8 h4.4 q1.4,0 1.4,1.4 v6.8 h-11.6 z" fill="#f3ea8c" stroke="#d2c350" stroke-width="0.9"/>
<path d="M149.4,38 v5.8" stroke="#555" stroke-width="1" stroke-dasharray="1 1"/>
<polygon points="157.8,32.6 159.5,36.4 163.6,36.8 160.5,39.5 161.4,43.6 157.8,41.5 154.2,43.6 155.1,39.5 152,36.8 156.1,36.4" fill="#f2e23c" stroke="#b9a21c" stroke-width="0.9"/>
<rect x="173.8" y="28.8" width="14.8" height="13.2" rx="1.2" fill="#eaf3fc" stroke="#4a80c8" stroke-width="1.4"/>
<rect x="173.4" y="28.4" width="3.6" height="14" rx="1" fill="#3a6cb4"/>
<path d="M178.4,30.5 v6.5" stroke="#e06060" stroke-width="0.9" stroke-dasharray="1 1"/>
<path d="M178,38.2 h10" stroke="#c9d8ea" stroke-width="0.8"/>
<rect x="200.4" y="27.6" width="13" height="13.6" fill="#f2f2ee" stroke="#b4b4ac" stroke-width="0.9"/>
<path d="M203,35 v-5 h2 v3 M207,30 l2,3 l2,-3" stroke="#5a7ab0" stroke-width="0.9" fill="none"/>
<path d="M212.2,40 L217.4,44" stroke="#d8a020" stroke-width="2.3" stroke-linecap="round"/>
<circle cx="208.8" cy="36.9" r="4.5" fill="#dde8f8" fill-opacity="0.9" stroke="#8aa0c8" stroke-width="1.3"/>
<rect x="223.9" y="24.4" width="1" height="21.6" fill="#a6a6a6"/><rect x="224.9" y="24.4" width="1" height="21.6" fill="#fafafa"/>
<path d="M233.4,27.6 h7.4 l3,3 v10.6 h-10.4 z" fill="#f4f4f2" stroke="#9a9a96" stroke-width="1"/>
<path d="M235.5,31.5 h5 M235.5,33.8 h6 M235.5,36.1 h4" stroke="#a0a8a0" stroke-width="0.9"/>
<path d="M241.7,34.2 h3.8 v3.5000000000000004 h3.5000000000000004 v3.8 h-3.5000000000000004 v3.5000000000000004 h-3.8 v-3.5000000000000004 h-3.5000000000000004 v-3.8 h3.5000000000000004 z" fill="#2bd12b" stroke="#1a9a1a" stroke-width="0.9" stroke-linejoin="round"/>
<text x="253.3" y="39.1" font-size="12.4" fill="#1a1a1a" stroke="#1a1a1a" stroke-width="0.25" textLength="56.8" lengthAdjust="spacingAndGlyphs">New Order</text>
<polygon points="326.6,28.3 336.1,36.3 329,43.4 320,37.5" fill="#f0c22a" stroke="#b98414" stroke-width="1" stroke-linejoin="round"/>
<polygon points="326.4,30 333.6,36.2 331.4,38.4 323.4,33.6" fill="#f9dc5c"/>
<polygon points="320.6,37.8 329,42.2 330.6,40.6 322.6,36.4" fill="#c8921a"/>
<rect x="349.4" y="27.8" width="10" height="9.6" rx="1" fill="#2aa2f2"/>
<rect x="349.6" y="28.6" width="2.6" height="7.4" fill="#1478cc"/>
<path d="M354,31 h4.5 M354,33.4 h4.5" stroke="#bfe4fb" stroke-width="0.9"/>
<path d="M350.2,43.2 a3.2,3.2 0 0 1 0.6,-6.3 a4,3.6 0 0 1 7.2,-0.8 a3.6,3.6 0 0 1 2.6,7.1 z" fill="#eef2fa" stroke="#8c9cc4" stroke-width="1"/>
<circle cx="382.5" cy="35.8" r="7.7" fill="#c6cccc" stroke="#98a2a2" stroke-width="1.1"/>
<path d="M382.5,35.8 L382.5,43.5 A7.7,7.7 0 0 0 389.6,38.6 Z" fill="#4e9e52"/>
<circle cx="382.5" cy="35.8" r="5.2" fill="none" stroke="#e4e8e8" stroke-width="1.2"/>
<circle cx="382.5" cy="35.8" r="2.8" fill="#dfe4e6" stroke="#8e9aa0" stroke-width="0.9"/>
<circle cx="382.3" cy="35.4" r="1.3" fill="#2a58c0"/>
<rect x="397.4" y="23.4" width="93.60000000000002" height="23.6" fill="#f7f7f7"/><rect x="397.4" y="23.4" width="93.60000000000002" height="1" fill="#a8a8a8"/><rect x="397.4" y="23.4" width="1" height="23.6" fill="#a8a8a8"/><rect x="490" y="23.4" width="1" height="23.6" fill="#fff"/>
<path d="M401.4,32.8 q0.4,-3 4.2,-3.2 q3.2,-3.2 6.8,-0.4 q4,0.2 4.4,3.4 q-7.6,2.6 -15.4,0.2 z" fill="#62a8e2" stroke="#4a8aca" stroke-width="0.7"/>
<polygon points="402.2,34.6 416.2,34.4 409.6,43.8" fill="#f3dc4e" stroke="#c8a820" stroke-width="0.7"/>
<circle cx="413.6" cy="39.3" r="4.2" fill="#22a822" stroke="#148014" stroke-width="0.7"/>
<polygon points="412.2,37 412.2,41.6 416,39.3" fill="#fff"/>
<text x="422.8" y="39.1" font-size="12.4" fill="#1a1a1a" stroke="#1a1a1a" stroke-width="0.25" textLength="64.6" lengthAdjust="spacingAndGlyphs">AutoTrading</text>
<rect x="492.9" y="23.6" width="1" height="23.4" fill="#a6a6a6"/><rect x="493.9" y="23.6" width="1" height="23.4" fill="#fafafa"/>
<rect x="496.4" y="25.5" width="2" height="1" fill="#b0b0b0"/><rect x="496.4" y="27.9" width="2" height="1" fill="#b0b0b0"/><rect x="496.4" y="30.3" width="2" height="1" fill="#b0b0b0"/><rect x="496.4" y="32.7" width="2" height="1" fill="#b0b0b0"/><rect x="496.4" y="35.1" width="2" height="1" fill="#b0b0b0"/><rect x="496.4" y="37.5" width="2" height="1" fill="#b0b0b0"/><rect x="496.4" y="39.9" width="2" height="1" fill="#b0b0b0"/><rect x="496.4" y="42.3" width="2" height="1" fill="#b0b0b0"/><rect x="496.4" y="44.7" width="2" height="1" fill="#b0b0b0"/>
<path d="M509.2,31 V43.6 M506.59999999999997,41.2 H519.8" stroke="#4c4c4c" stroke-width="1.3" fill="none"/><polygon points="507.3,32.4 511.09999999999997,32.4 509.2,29.6" fill="#4c4c4c"/><polygon points="518.1999999999999,39.300000000000004 518.1999999999999,43.1 521.0,41.2" fill="#4c4c4c"/>
<path d="M515.8,31.2 V38.6 M515.8,31.8 h2.4 M515.8,38 h-2.6" stroke="#2a9a2a" stroke-width="1.5" fill="none"/>
<rect x="528.2" y="23.4" width="24.59999999999991" height="23.6" fill="#f7f7f7"/><rect x="528.2" y="23.4" width="24.59999999999991" height="1" fill="#a8a8a8"/><rect x="528.2" y="23.4" width="1" height="23.6" fill="#a8a8a8"/><rect x="551.8" y="23.4" width="1" height="23.6" fill="#fff"/>
<path d="M536.4,31 V43.6 M533.8,41.2 H547.0" stroke="#4c4c4c" stroke-width="1.3" fill="none"/><polygon points="534.5,32.4 538.3,32.4 536.4,29.6" fill="#4c4c4c"/><polygon points="545.4,39.300000000000004 545.4,43.1 548.2,41.2" fill="#4c4c4c"/>
<path d="M542.6,27.4 V39.4" stroke="#1c9a1c" stroke-width="1.2"/>
<rect x="540" y="29.6" width="5.3" height="8.4" rx="1" fill="#2bcc2b" stroke="#189818" stroke-width="0.9"/>
<rect x="541.6" y="31" width="2" height="5.6" fill="#7bea7b"/>
<path d="M563.6,31 V43.6 M561.0,41.2 H574.2" stroke="#4c4c4c" stroke-width="1.3" fill="none"/><polygon points="561.7,32.4 565.5,32.4 563.6,29.6" fill="#4c4c4c"/><polygon points="572.6,39.300000000000004 572.6,43.1 575.4000000000001,41.2" fill="#4c4c4c"/>
<path d="M562.8,38.6 Q565.4,32.4 567.9,32.5 Q570,32.6 574.2,37.2" stroke="#2c6c3c" stroke-width="1.4" fill="none"/>
<rect x="582.7" y="24.4" width="1" height="21.6" fill="#a6a6a6"/><rect x="583.7" y="24.4" width="1" height="21.6" fill="#fafafa"/>
<path d="M601.6,37.8 L606.6,42.6" stroke="#b4b4b4" stroke-width="2.2" stroke-linecap="round"/>
<circle cx="597.2" cy="33.5" r="5.8" fill="#ececec" stroke="#ababab" stroke-width="1.3"/>
<path d="M594.2,33.5 h6 M597.2,30.5 v6" stroke="#a8a8a8" stroke-width="1.5"/>
<path d="M629.2,37.8 L634,42.4" stroke="#e0b828" stroke-width="2.4" stroke-linecap="round"/>
<circle cx="624.7" cy="33.5" r="5.9" fill="#cfeafa" stroke="#5a88ba" stroke-width="1.5"/>
<path d="M621.6,33.5 h6.2" stroke="#2a58a8" stroke-width="1.7"/>
<rect x="645.6" y="27.4" width="7.8" height="8" fill="#3c9a2c"/>
<rect x="646.9" y="30.4" width="5.2" height="3.4" fill="#eef6e4"/>
<rect x="653.9" y="27.4" width="7.8" height="8" fill="#2a52b2"/>
<rect x="655.1999999999999" y="30.4" width="5.2" height="3.4" fill="#eef6e4"/>
<rect x="645.6" y="35.8" width="7.8" height="8" fill="#2a52b2"/>
<rect x="646.9" y="38.8" width="5.2" height="3.4" fill="#eef6e4"/>
<rect x="653.9" y="35.8" width="7.8" height="8" fill="#3c9a2c"/>
<rect x="655.1999999999999" y="38.8" width="5.2" height="3.4" fill="#eef6e4"/>
<rect x="669.5" y="24.4" width="1" height="21.6" fill="#a6a6a6"/><rect x="670.5" y="24.4" width="1" height="21.6" fill="#fafafa"/>
<path d="M682.2,31 V43.6 M679.6,41.2 H692.8000000000001" stroke="#4c4c4c" stroke-width="1.3" fill="none"/><polygon points="680.3000000000001,32.4 684.1,32.4 682.2,29.6" fill="#4c4c4c"/><polygon points="691.2,39.300000000000004 691.2,43.1 694.0000000000001,41.2" fill="#4c4c4c"/>
<polygon points="686.4,32.6 686.4,38.2 690.8,35.4" fill="#2aa82a"/>
<rect x="701.4" y="23.4" width="24.0" height="23.6" fill="#f7f7f7"/><rect x="701.4" y="23.4" width="24.0" height="1" fill="#a8a8a8"/><rect x="701.4" y="23.4" width="1" height="23.6" fill="#a8a8a8"/><rect x="724.4" y="23.4" width="1" height="23.6" fill="#fff"/>
<path d="M709.4,31 V43.6 M706.8,41.2 H720.0" stroke="#4c4c4c" stroke-width="1.3" fill="none"/><polygon points="707.5,32.4 711.3,32.4 709.4,29.6" fill="#4c4c4c"/><polygon points="718.4,39.300000000000004 718.4,43.1 721.2,41.2" fill="#4c4c4c"/>
<path d="M715.3,30 V39.6" stroke="#3a6cc0" stroke-width="1.2"/>
<polygon points="716.4,35.1 720.8,32.6 720.8,37.6" fill="#d2601e"/>
<rect x="728.7" y="24.4" width="1" height="21.6" fill="#a6a6a6"/><rect x="729.7" y="24.4" width="1" height="21.6" fill="#fafafa"/>
<path d="M738.4,27.8 h7.6 l3.4,3.4 v10.2 h-11 z" fill="#f6f6f4" stroke="#8c8c88" stroke-width="1"/>
<path d="M741.5,36 q-1.4,-3 1,-5" stroke="#555" stroke-width="1" fill="none"/>
<path d="M746.1,33.8 h3.8 v3.6999999999999997 h3.6999999999999997 v3.8 h-3.6999999999999997 v3.6999999999999997 h-3.8 v-3.6999999999999997 h-3.6999999999999997 v-3.8 h3.6999999999999997 z" fill="#2bd12b" stroke="#1a9a1a" stroke-width="0.9" stroke-linejoin="round"/>
<polygon points="757.7,34.5 763.3,34.5 760.5,37.800000000000004" fill="#111"/>
<circle cx="782.1" cy="35.4" r="6.9" fill="#f4f8fc" stroke="#1c60c0" stroke-width="2.5"/>
<path d="M782.1,31.4 V35.6 L785,37" stroke="#555" stroke-width="1.1" fill="none"/>
<polygon points="795.2,34.5 800.8,34.5 798,37.800000000000004" fill="#111"/>
<rect x="812.2" y="28.6" width="14.8" height="13.6" rx="1" fill="#eef4fb" stroke="#4a80c8" stroke-width="1.3"/>
<rect x="812.2" y="28.2" width="14.8" height="2.4" fill="#4a80c8"/>
<path d="M814,34.6 l3,-1.4 l2.6,1 l2.6,-1.8 l3,0.8" stroke="#d24a3a" stroke-width="1.1" fill="none"/>
<path d="M814,39.2 l3,-1.2 l2.6,1 l2.6,-1.6 l3,0.8" stroke="#3c9a4c" stroke-width="1.1" fill="none"/>
<polygon points="832.8000000000001,34.5 838.4,34.5 835.6,37.800000000000004" fill="#111"/>
<rect x="3" y="52.5" width="2" height="1" fill="#b0b0b0"/><rect x="3" y="54.9" width="2" height="1" fill="#b0b0b0"/><rect x="3" y="57.3" width="2" height="1" fill="#b0b0b0"/><rect x="3" y="59.7" width="2" height="1" fill="#b0b0b0"/><rect x="3" y="62.1" width="2" height="1" fill="#b0b0b0"/><rect x="3" y="64.5" width="2" height="1" fill="#b0b0b0"/><rect x="3" y="66.9" width="2" height="1" fill="#b0b0b0"/><rect x="3" y="69.3" width="2" height="1" fill="#b0b0b0"/><rect x="3" y="71.7" width="2" height="1" fill="#b0b0b0"/>
<rect x="7.3" y="50.6" width="24.599999999999998" height="23.800000000000004" fill="#f7f7f7"/><rect x="7.3" y="50.6" width="24.599999999999998" height="1" fill="#a8a8a8"/><rect x="7.3" y="50.6" width="1" height="23.800000000000004" fill="#a8a8a8"/><rect x="30.9" y="50.6" width="1" height="23.800000000000004" fill="#fff"/>
<polygon points="15.7,55.8 15.7,66.8 18.3,64.4 20.5,69.9 22.5,69 20.2,63.7 23.7,63.7" fill="#454545"/>
<path d="M40,63.3 H45.6 M48.8,63.3 H54.8 M47.2,56 V61.6 M47.2,65 V70.6" stroke="#555" stroke-width="1.3"/>
<rect x="63.3" y="51.4" width="1" height="21.800000000000004" fill="#a6a6a6"/><rect x="64.3" y="51.4" width="1" height="21.800000000000004" fill="#fafafa"/>
<path d="M81,56.8 V69.7" stroke="#555" stroke-width="1.6"/>
<path d="M102.5,63.2 H114.6" stroke="#555" stroke-width="1.6"/>
<path d="M129.2,69.6 L141.6,57.7" stroke="#555" stroke-width="1.5"/>
<path d="M154.7,65.4 L168,56.8 M157,69.7 L169.2,60.7 M158.6,62.9 l2,5 M161.8,60.8 l2,5 M165,58.7 l2,5 M166.6,55.4 l0.8,4" stroke="#555" stroke-width="1.2" fill="none"/>
<text x="166" y="71.8" font-size="6.6" font-weight="bold" fill="#555">E</text>
<path d="M182.8,56.4 H196" stroke="#555" stroke-width="1.1" stroke-dasharray="1.3 0.9"/>
<path d="M182.8,59.2 H196" stroke="#555" stroke-width="1.1" stroke-dasharray="1.3 0.9"/>
<path d="M182.8,63.5 H196" stroke="#555" stroke-width="1.1" stroke-dasharray="1.3 0.9"/>
<path d="M182.8,67.6 H191.4" stroke="#555" stroke-width="1.1" stroke-dasharray="1.3 0.9"/>
<text x="193" y="71.8" font-size="6.6" font-weight="bold" fill="#555">F</text>
<text x="212.6" y="67.8" font-size="12.6" font-weight="bold" fill="#4a4a4a" stroke="#4a4a4a" stroke-width="0.4" textLength="8.4" lengthAdjust="spacingAndGlyphs">A</text>
<rect x="238.4" y="56.8" width="11.8" height="12.6" fill="none" stroke="#555" stroke-width="0.9" stroke-dasharray="1 1"/>
<rect x="237.6" y="55.8" width="2" height="2" fill="#555"/>
<text x="244.4" y="67.7" font-size="10.6" font-weight="bold" fill="#555" stroke="#555" stroke-width="0.3" text-anchor="middle" style="font-family:Liberation Serif,serif">T</text>
<polygon points="268,56.9 271.6,59.6 268,62.3 264.4,59.6" fill="#555"/>
<polygon points="275.2,64.3 278.8,67 275.2,69.7 271.6,67" fill="#555"/>
<path d="M267.4,64.4 l2,2 l4.6,-5" stroke="#555" stroke-width="1.3" fill="none"/>
<polygon points="283.2,62.0 288.8,62.0 286,65.3" fill="#111"/>
<rect x="294.9" y="50.4" width="1" height="24.199999999999996" fill="#a6a6a6"/><rect x="295.9" y="50.4" width="1" height="24.199999999999996" fill="#fafafa"/>
<rect x="298" y="52.5" width="2" height="1" fill="#b0b0b0"/><rect x="298" y="54.9" width="2" height="1" fill="#b0b0b0"/><rect x="298" y="57.3" width="2" height="1" fill="#b0b0b0"/><rect x="298" y="59.7" width="2" height="1" fill="#b0b0b0"/><rect x="298" y="62.1" width="2" height="1" fill="#b0b0b0"/><rect x="298" y="64.5" width="2" height="1" fill="#b0b0b0"/><rect x="298" y="66.9" width="2" height="1" fill="#b0b0b0"/><rect x="298" y="69.3" width="2" height="1" fill="#b0b0b0"/><rect x="298" y="71.7" width="2" height="1" fill="#b0b0b0"/>
<rect x="357.8" y="50.6" width="24.599999999999966" height="23.800000000000004" fill="#f7f7f7"/><rect x="357.8" y="50.6" width="24.599999999999966" height="1" fill="#a8a8a8"/><rect x="357.8" y="50.6" width="1" height="23.800000000000004" fill="#a8a8a8"/><rect x="381.4" y="50.6" width="1" height="23.800000000000004" fill="#fff"/>
<text x="308.6" y="66.9" font-size="10" fill="#4a4a4a" stroke="#4a4a4a" stroke-width="0.25" textLength="12.8" lengthAdjust="spacingAndGlyphs">M1</text>
<text x="336" y="66.9" font-size="10" fill="#4a4a4a" stroke="#4a4a4a" stroke-width="0.25" textLength="12.8" lengthAdjust="spacingAndGlyphs">M5</text>
<text x="361.2" y="66.9" font-size="10" fill="#4a4a4a" stroke="#4a4a4a" stroke-width="0.25" textLength="17.6" lengthAdjust="spacingAndGlyphs">M15</text>
<text x="388.4" y="66.9" font-size="10" fill="#4a4a4a" stroke="#4a4a4a" stroke-width="0.25" textLength="18" lengthAdjust="spacingAndGlyphs">M30</text>
<text x="418.6" y="66.9" font-size="10" fill="#4a4a4a" stroke="#4a4a4a" stroke-width="0.25" textLength="11.2" lengthAdjust="spacingAndGlyphs">H1</text>
<text x="445.2" y="66.9" font-size="10" fill="#4a4a4a" stroke="#4a4a4a" stroke-width="0.25" textLength="11.6" lengthAdjust="spacingAndGlyphs">H4</text>
<text x="473" y="66.9" font-size="10" fill="#4a4a4a" stroke="#4a4a4a" stroke-width="0.25" textLength="11.4" lengthAdjust="spacingAndGlyphs">D1</text>
<text x="499.6" y="66.9" font-size="10" fill="#4a4a4a" stroke="#4a4a4a" stroke-width="0.25" textLength="13.6" lengthAdjust="spacingAndGlyphs">W1</text>
<text x="525.6" y="66.9" font-size="10" fill="#4a4a4a" stroke="#4a4a4a" stroke-width="0.25" textLength="13.6" lengthAdjust="spacingAndGlyphs">MN</text>
<rect x="546.4" y="50.4" width="1" height="24.4" fill="#b4b4b4"/><rect x="547.4" y="50.4" width="1" height="24.4" fill="#fbfbfb"/>
<g fill="none" stroke="#22e3ee" stroke-width="2.7" stroke-linejoin="miter"><path d="M1551.2,15.2 H1558.2 V30.6 L1555.8,33 H1551.2 Z"/><path d="M1575,25.8 H1564.6 L1551.2,40.2 V47.2 L1557.2,54.4 H1575 V46.6 H1558.2 V37.8"/><path d="M1575,25.8 V33 H1561.6"/></g>
<text x="1420" y="55.2" font-size="16.6" fill="#5c5c5c" textLength="115" lengthAdjust="spacingAndGlyphs" style="font-weight:normal">TradingFinder</text>
<g transform="translate(1478,28.2) scale(1.13,0.94)"><text class="fa" x="0" y="0" font-size="18" fill="#5e5e5e" direction="rtl" text-anchor="middle">تریدینگ فایندر</text></g>
</svg>
</body></html>
